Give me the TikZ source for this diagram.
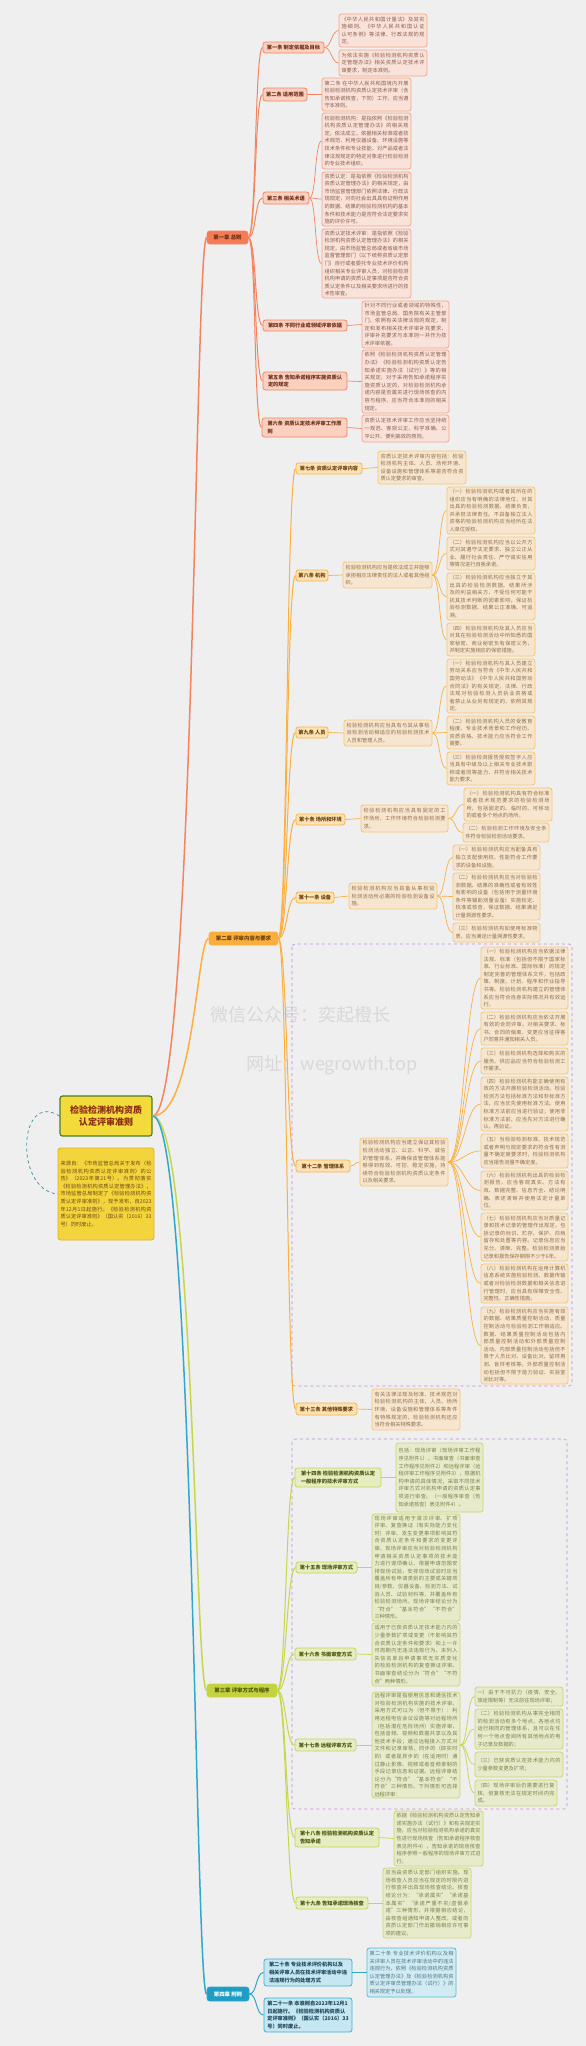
\documentclass[tikz,border=0pt]{standalone}
\usepackage{fontspec}
\setmainfont{Noto Sans CJK SC}
\XeTeXlinebreaklocale "zh"
\XeTeXlinebreakskip=0pt plus 0.6pt
\definecolor{bg}{HTML}{EFEFEF}
\definecolor{cAm}{HTML}{F4845F}\definecolor{cAc}{HTML}{F47C55}\definecolor{cAf}{HTML}{FAD0BF}\definecolor{cAd}{HTML}{F4845F}\definecolor{cAlf}{HTML}{F8E2D9}\definecolor{cAld}{HTML}{F3A68A}\definecolor{cAt}{HTML}{6E2F1A}\definecolor{cAlt}{HTML}{8C5E4C}
\definecolor{cBm}{HTML}{FBB040}\definecolor{cBc}{HTML}{FBAE3C}\definecolor{cBf}{HTML}{FCE2B5}\definecolor{cBd}{HTML}{FBB445}\definecolor{cBlf}{HTML}{F7E6CF}\definecolor{cBld}{HTML}{F9C56F}\definecolor{cBt}{HTML}{6A4210}\definecolor{cBlt}{HTML}{8F6E4A}
\definecolor{cCm}{HTML}{C7D54A}\definecolor{cCc}{HTML}{C4D23E}\definecolor{cCf}{HTML}{E6EDC0}\definecolor{cCd}{HTML}{C8D657}\definecolor{cClf}{HTML}{E8EBCB}\definecolor{cCld}{HTML}{CAD66B}\definecolor{cCt}{HTML}{4C5512}\definecolor{cClt}{HTML}{7A8048}
\definecolor{cDm}{HTML}{2FA8CC}\definecolor{cDc}{HTML}{1F9EC5}\definecolor{cDf}{HTML}{C6E6F1}\definecolor{cDd}{HTML}{3FB0D4}\definecolor{cDlf}{HTML}{D2EBF3}\definecolor{cDld}{HTML}{58BAD8}\definecolor{cDt}{HTML}{1D4A5C}\definecolor{cDlt}{HTML}{4A7888}
\definecolor{rootf}{HTML}{F2DB3A}\definecolor{rootd}{HTML}{4E7D2C}\definecolor{roott}{HTML}{8B2B16}
\definecolor{notef}{HTML}{F4D43C}\definecolor{noted}{HTML}{D8B22C}\definecolor{notet}{HTML}{6A4A12}
\definecolor{bnd}{HTML}{C48BDD}\definecolor{arcc}{HTML}{3B8FA8}\definecolor{wmc}{HTML}{D8D8D8}
\tikzset{
 basebox/.style={rounded corners=2.5pt, line width=0.8pt, inner xsep=2.5pt, inner ysep=1pt, align=left},
 leafbox/.style={basebox, font=\fontsize{5.2}{7.6}\selectfont, align=justify},
 twobox/.style={basebox, font=\bfseries\fontsize{5.2}{7.6}\selectfont},
 chbox/.style={basebox, font=\bfseries\fontsize{5.4}{7.6}\selectfont, line width=0.6pt},
 leafA/.style={leafbox, draw=cAld, fill=cAlf, text=cAlt},
 twoA/.style={twobox, draw=cAd, fill=cAf, text=cAt},
 chA/.style={chbox, draw=cAm, fill=cAc, text=cAt},
 leafB/.style={leafbox, draw=cBld, fill=cBlf, text=cBlt},
 twoB/.style={twobox, draw=cBd, fill=cBf, text=cBt},
 chB/.style={chbox, draw=cBm, fill=cBc, text=cBt},
 leafC/.style={leafbox, draw=cCld, fill=cClf, text=cClt},
 twoC/.style={twobox, draw=cCd, fill=cCf, text=cCt},
 chC/.style={chbox, draw=cCm, fill=cCc, text=cCt},
 leafD/.style={leafbox, draw=cDld, fill=cDlf, text=cDlt},
 twoD/.style={twobox, draw=cDd, fill=cDf, text=cDt},
 chD/.style={chbox, draw=cDm, fill=cDc, text=white},
 rootbox/.style={basebox, align=center, draw=rootd, fill=rootf, text=roott, line width=1.2pt, font=\bfseries\fontsize{9}{12}\selectfont},
 notebox/.style={leafbox, draw=noted, fill=notef, text=notet},
 bndline/.style={draw=bnd, dashed, line width=0.6pt, rounded corners=3pt},
 rA/.style={draw=cAm, line width=1.5pt}, eA/.style={draw=cAm, line width=1pt}, fA/.style={draw=cAm, line width=0.7pt},
 rB/.style={draw=cBm, line width=1.5pt}, eB/.style={draw=cBm, line width=1pt}, fB/.style={draw=cBm, line width=0.7pt},
 rC/.style={draw=cCm, line width=1.5pt}, eC/.style={draw=cCm, line width=1pt}, fC/.style={draw=cCm, line width=0.7pt},
 rD/.style={draw=cDm, line width=1.5pt}, eD/.style={draw=cDm, line width=1pt}, fD/.style={draw=cDm, line width=0.7pt},
 wmark/.style={text=wmc, inner sep=0pt, font=\fontsize{18}{20}\selectfont}
}
\newcommand\bx[7]{%
 \pgfmathsetmacro\myw{#5-#3}\pgfmathsetmacro\myh{#6-#4}%
 \pgfmathsetmacro\mytw{#5-#3-5}\pgfmathsetmacro\mycx{(#3+#5)/2}\pgfmathsetmacro\mycy{(#4+#6)/2}%
 \node[#2,minimum width=\myw pt,minimum height=\myh pt,text width=\mytw pt] (#1) at (\mycx,\mycy) {#7};}
\newcommand\bs[7]{%
 \pgfmathsetmacro\myw{#5-#3}\pgfmathsetmacro\myh{#6-#4}%
 \pgfmathsetmacro\mycx{(#3+#5)/2}\pgfmathsetmacro\mycy{(#4+#6)/2}%
 \node[#2,minimum width=\myw pt,minimum height=\myh pt] (#1) at (\mycx,\mycy) {#7};}
\newcommand\cn[4]{\draw[#1] (#2.east) .. controls +(#4,0) and +(-#4,0) .. (#3.west);}
\newcommand\rc[2]{\draw[#1] (root.east) .. controls +(42,0) and +(-12,0) .. (#2.west);}
\begin{document}
\begin{tikzpicture}[x=1pt,y=-1pt]
\fill[bg] (0,0) rectangle (586,2046);
\useasboundingbox (0,0) rectangle (586,2046);
% faint watermark in the free space left of the 第十二条 block
\node[wmark] (wm1) at (300,1015) {微信公众号：奕起橙长};
\node[wmark] (wm2) at (332,1065) {网址：wegrowth.top};
\draw[bndline] (292,944) rectangle (572,1386);
\draw[bndline] (292,1439) rectangle (567,1809);

\node[rootbox, minimum width=92pt, minimum height=40pt] (root) at (106,1116) {检验检测机构资质\\认定评审准则};
\bx{note}{notebox}{58}{1148}{154}{1240}{来源自：《市场监管总局关于发布〈检验检测机构资质认定评审准则〉的公告》（2023年第21号）。为贯彻落实《检验检测机构资质认定管理办法》，市场监管总局制定了《检验检测机构资质认定评审准则》，现予发布，自2023年12月1日起施行。《检验检测机构资质认定评审准则》（国认实〔2016〕33号）同时废止。}
\draw[arcc, dashed, line width=0.7pt] (root.west) .. controls (18,1090) and (14,1190) .. (note.west);

\bs{ch1}{chA}{207}{231}{248}{244}{第一章 总则}
\bs{ch2}{chB}{209}{932}{278}{945}{第二章 评审内容与要求}
\bs{ch3}{chC}{207}{1684}{277}{1697}{第三章 评审方式与程序}
\bs{ch4}{chD}{207}{1987}{249}{2001}{第四章 附则}
\rc{rA}{ch1}\rc{rB}{ch2}\rc{rC}{ch3}\rc{rD}{ch4}

\bs{a1}{twoA}{263}{42}{324}{53}{第一条 制定依据及目标}
\bs{a2}{twoA}{263}{88}{307}{101}{第二条 适用范围}
\bs{a3}{twoA}{263}{192}{309}{204}{第三条 相关术语}
\bs{a4}{twoA}{263}{320}{347}{331}{第四条 不同行业或领域评审依据}
\bs{a5}{twoA}{263}{372}{347}{390}{第五条 告知承诺程序实施资质认\\定的规定}
\bs{a6}{twoA}{262}{418}{347}{437}{第六条 资质认定技术评审工作原\\则}
\bx{l1a}{leafA}{339}{14}{427}{47}{《中华人民共和国计量法》及其实施细则、《中华人民共和国认证认可条例》等法律、行政法规的规定。}
\bx{l1b}{leafA}{339}{50}{427}{76}{为依法实施《检验检测机构资质认定管理办法》相关资质认定技术评审要求，制定本准则。}
\bx{l2}{leafA}{322}{78}{411}{111}{第二条 在中华人民共和国境内开展检验检测机构资质认定技术评审（含告知承诺核查，下同）工作，应当遵守本准则。}
\bx{l3a}{leafA}{322}{113}{411}{169}{检验检测机构：是指依照《检验检测机构资质认定管理办法》的相关规定，依法成立，依据相关标准或者技术规范，利用仪器设备、环境设施等技术条件和专业技能，对产品或者法律法规规定的特定对象进行检验检测的专业技术组织。}
\bx{l3b}{leafA}{322}{172}{411}{226}{资质认定：是指依照《检验检测机构资质认定管理办法》的相关规定，由市场监督管理部门依照法律、行政法规规定，对向社会出具具有证明作用的数据、结果的检验检测机构的基本条件和技术能力是否符合法定要求实施的评价许可。}
\bx{l3c}{leafA}{322}{229}{411}{298}{资质认定技术评审：是指依照《检验检测机构资质认定管理办法》的相关规定，由市场监管总局或者省级市场监督管理部门（以下统称资质认定部门）自行或者委托专业技术评价机构组织相关专业评审人员，对检验检测机构申请的资质认定事项是否符合资质认定条件以及相关要求所进行的技术性审查。}
\bx{l4}{leafA}{362}{301}{449}{348}{针对不同行业或者领域的特殊性，市场监管总局、国务院有关主管部门，依照有关法律法规的规定，制定和发布相关技术评审补充要求，评审补充要求与本准则一并作为技术评审依据。}
\bx{l5}{leafA}{362}{350}{449}{413}{依照《检验检测机构资质认定管理办法》《检验检测机构资质认定告知承诺实施办法（试行）》等的相关规定，对于采用告知承诺程序实施资质认定的，对检验检测机构承诺内容是否属实进行现场核查的内容与程序，应当符合本准则的相关规定。}
\bx{l6}{leafA}{362}{415}{449}{442}{资质认定技术评审工作应当坚持统一规范、客观公正、科学准确、公平公开、便利高效的原则。}
\foreach \n in {a1,a2,a3,a4,a5,a6}{\cn{eA}{ch1}{\n}{8}}
\cn{fA}{a1}{l1a}{7}\cn{fA}{a1}{l1b}{7}\cn{fA}{a2}{l2}{7}
\cn{fA}{a3}{l3a}{7}\cn{fA}{a3}{l3b}{7}\cn{fA}{a3}{l3c}{7}
\cn{fA}{a4}{l4}{7}\cn{fA}{a5}{l5}{7}\cn{fA}{a6}{l6}{7}

\bs{b7}{twoB}{296}{463}{362}{474}{第七条 资质认定评审内容}
\bs{b8}{twoB}{296}{570}{328}{581}{第八条 机构}
\bs{b9}{twoB}{296}{727}{328}{738}{第九条 人员}
\bs{b10}{twoB}{296}{814}{345}{825}{第十条 场所和环境}
\bs{b11}{twoB}{296}{892}{334}{903}{第十一条 设备}
\bs{b12}{twoB}{296}{1160}{350}{1172}{第十二条 管理体系}
\bs{b13}{twoB}{296}{1403}{357}{1415}{第十三条 其他特殊要求}
\bx{l7}{leafB}{378}{451}{466}{484}{资质认定技术评审内容包括：检验检测机构主体、人员、场所环境、设备设施和管理体系等是否符合资质认定要求的审查。}
\bx{l8}{leafB}{343}{562}{432}{588}{检验检测机构应当是依法成立并能够承担相应法律责任的法人或者其他组织。}
\bx{l81}{leafB}{447}{487}{535}{534}{（一）检验检测机构或者其所在的组织应当有明确的法律地位，对其出具的检验检测数据、结果负责，并承担法律责任。不具备独立法人资格的检验检测机构应当经所在法人单位授权。}
\bx{l82}{leafB}{447}{537}{535}{570}{（二）检验检测机构应当以公开方式对其遵守法定要求、独立公正从业、履行社会责任、严守诚实信用等情况进行自我承诺。}
\bx{l83}{leafB}{447}{573}{535}{620}{（三）检验检测机构应当独立于其出具的检验检测数据、结果所涉及的利益相关方，不受任何可能干扰其技术判断的因素影响，保证检验检测数据、结果公正准确、可追溯。}
\bx{l84}{leafB}{447}{623}{535}{656}{（四）检验检测机构及其人员应当对其在检验检测活动中所知悉的国家秘密、商业秘密负有保密义务，并制定实施相应的保密措施。}
\bx{l9}{leafB}{344}{720}{432}{746}{检验检测机构应当具有与其从事检验检测活动相适应的检验检测技术人员和管理人员。}
\bx{l91}{leafB}{447}{659}{535}{713}{（一）检验检测机构与其人员建立劳动关系应当符合《中华人民共和国劳动法》《中华人民共和国劳动合同法》的有关规定，法律、行政法规对检验检测人员执业资格或者禁止从业另有规定的，依照其规定。}
\bx{l92}{leafB}{447}{716}{535}{749}{（二）检验检测机构人员的受教育程度、专业技术背景和工作经历、资质资格、技术能力应当符合工作需要。}
\bx{l93}{leafB}{447}{752}{535}{785}{（三）检验检测报告授权签字人应当具有中级及以上相关专业技术职称或者同等能力，并符合相关技术能力要求。}
\bx{l10}{leafB}{361}{805}{448}{832}{检验检测机构应当具有固定的工作场所，工作环境符合检验检测要求。}
\bx{l101}{leafB}{464}{788}{552}{821}{（一）检验检测机构具有符合标准或者技术规范要求的检验检测场所，包括固定的、临时的、可移动的或者多个地点的场所。}
\bx{l102}{leafB}{463}{823}{549}{842}{（二）检验检测工作环境及安全条件符合检验检测活动要求。}
\bx{l11}{leafB}{349}{883}{437}{909}{检验检测机构应当具备从事检验检测活动所必需的检验检测设备设施。}
\bx{l111}{leafB}{453}{845}{540}{870}{（一）检验检测机构应当配备具有独立支配使用权、性能符合工作要求的设备和设施。}
\bx{l112}{leafB}{453}{873}{540}{920}{（二）检验检测机构应当对检验检测数据、结果的准确性或者有效性有影响的设备（包括用于测量环境条件等辅助测量设备）实施检定、校准或核查，保证数据、结果满足计量溯源性要求。}
\bx{l113}{leafB}{453}{923}{540}{942}{（三）检验检测机构如使用标准物质，应当满足计量溯源性要求。}
\bx{l12}{leafB}{360}{1138}{448}{1186}{检验检测机构应当建立保证其检验检测活动独立、公正、科学、诚信的管理体系，并确保该管理体系能够得到有效、可控、稳定实施，持续符合检验检测机构资质认定条件以及相关要求。}
\bx{l121}{leafB}{481}{947}{568}{1009}{（一）检验检测机构应当依据法律法规、标准（包括但不限于国家标准、行业标准、国际标准）的规定制定完善的管理体系文件，包括政策、制度、计划、程序和作业指导书等。检验检测机构建立的管理体系应当符合自身实际情况并有效运行。}
\bx{l122}{leafB}{481}{1012}{568}{1045}{（二）检验检测机构应当依法开展有效的合同评审。对相关要求、标书、合同的偏离、变更应当征得客户同意并通知相关人员。}
\bx{l123}{leafB}{481}{1048}{568}{1074}{（三）检验检测机构选择和购买的服务、供应品应当符合检验检测工作需求。}
\bx{l124}{leafB}{481}{1077}{568}{1131}{（四）检验检测机构能正确使用有效的方法开展检验检测活动。检验检测方法包括标准方法和非标准方法，应当优先使用标准方法。使用标准方法前应当进行验证；使用非标准方法前，应当先对方法进行确认，再验证。}
\bx{l125}{leafB}{481}{1134}{568}{1168}{（五）当检验检测标准、技术规范或者声明与规定要求的符合性有测量不确定度要求时，检验检测机构应当报告测量不确定度。}
\bx{l126}{leafB}{481}{1171}{568}{1210}{（六）检验检测机构出具的检验检测报告，应当客观真实、方法有效、数据完整、信息齐全、结论明确、表述清晰并使用法定计量单位。}
\bx{l127}{leafB}{481}{1213}{568}{1261}{（七）检验检测机构应当对质量记录和技术记录的管理作出规定，包括记录的标识、贮存、保护、归档留存和处置等内容。记录信息应当充分、清晰、完整。检验检测原始记录和报告保存期限不少于6年。}
\bx{l128}{leafB}{481}{1264}{568}{1303}{（八）检验检测机构在运用计算机信息系统实施检验检测、数据传输或者对检验检测数据和相关信息进行管理时，应当具有保障安全性、完整性、正确性措施。}
\bx{l129}{leafB}{481}{1307}{568}{1384}{（九）检验检测机构应当实施有效的数据、结果质量控制活动，质量控制活动与检验检测工作相适应。数据、结果质量控制活动包括内部质量控制活动和外部质量控制活动。内部质量控制活动包括但不限于人员比对、设备比对、留样再测、盲样考核等。外部质量控制活动包括但不限于能力验证、实验室间比对等。}
\bx{l13}{leafB}{372}{1389}{460}{1430}{有关法律法规及标准、技术规范对检验检测机构的主体、人员、场所环境、设备设施和管理体系等条件有特殊规定的，检验检测机构还应当符合相关特殊要求。}
\foreach \n in {b7,b8,b9,b10,b11,b12,b13}{\cn{eB}{ch2}{\n}{9}}
\cn{fB}{b7}{l7}{7}\cn{fB}{b8}{l8}{7}\cn{fB}{b9}{l9}{7}\cn{fB}{b10}{l10}{7}
\cn{fB}{b11}{l11}{7}\cn{fB}{b12}{l12}{5}\cn{fB}{b13}{l13}{7}
\foreach \n in {l81,l82,l83,l84}{\cn{fB}{l8}{\n}{8}}
\foreach \n in {l91,l92,l93}{\cn{fB}{l9}{\n}{8}}
\foreach \n in {l101,l102}{\cn{fB}{l10}{\n}{8}}
\foreach \n in {l111,l112,l113}{\cn{fB}{l11}{\n}{8}}
\foreach \n in {l121,l122,l123,l124,l125,l126,l127,l128,l129}{\cn{fB}{l12}{\n}{15}}

\bs{c14}{twoC}{295}{1468}{381}{1487}{第十四条 检验检测机构资质认定\\一般程序的技术评审方式}
\bs{c15}{twoC}{296}{1562}{357}{1573}{第十五条 现场评审方式}
\bs{c16}{twoC}{295}{1648}{356}{1660}{第十六条 书面审查方式}
\bs{c17}{twoC}{295}{1739}{356}{1751}{第十七条 远程评审方式}
\bs{c18}{twoC}{295}{1828}{379}{1847}{第十八条 检验检测机构资质认定\\告知承诺}
\bs{c19}{twoC}{296}{1897}{368}{1909}{第十九条 告知承诺现场核查}
\bx{l14}{leafC}{396}{1443}{483}{1512}{包括：现场评审（现场评审工作程序见附件1）、书面审查（书面审查工作程序见附件2）和远程评审（远程评审工作程序见附件3），根据机构申请的具体情况，采取不同技术评审方式对机构申请的资质认定事项进行审查。（一般程序审查〔告知承诺核查〕表见附件4）。}
\bx{l15}{leafC}{372}{1514}{460}{1621}{现场评审适用于首次评审、扩项评审、复查换证（有实际能力变化时）评审、发生变更事项影响其符合资质认定条件和要求的变更评审。现场评审应当对检验检测机构申请相关资质认定事项的技术能力进行逐项确认，根据申请范围安排现场试验，安排现场试验时应当覆盖所有申请类别的主要或关键项目/参数、仪器设备、检测方法、试验人员、试验材料等，并覆盖所有检验检测场所。现场评审结论分为“符合”“基本符合”“不符合”三种情形。}
\bx{l16}{leafC}{372}{1623}{460}{1686}{适用于已获资质认定技术能力内的少量参数扩项或变更（不影响其符合资质认定条件和要求）和上一许可周期内无违法违规行为、未列入失信名单且申请事项无实质变化的检验检测机构的复查换证评审。书面审查结论分为“符合”“不符合”两种情形。}
\bx{l17}{leafC}{372}{1692}{460}{1798}{远程评审是指使用信息和通信技术对检验检测机构实施的技术评审。采用方式可以为（但不限于）：利用远程电信会议设施等对远程场所（包括潜在危险场所）实施评审，包括音频、视频和数据共享以及其他技术手段；通过远程接入方式对文件和记录审核，同步的（即实时的）或者是异步的（在适用时）通过静止影像、视频或者音频录制的手段记录信息和证据。远程评审结论分为“符合”“基本符合”“不符合”三种情形。下列情形可选择远程评审：}
\bx{l171}{leafC}{475}{1687}{563}{1706}{一）由于不可抗力（疫情、安全、旅途限制等）无法前往现场评审；}
\bx{l172}{leafC}{475}{1709}{563}{1749}{（二）检验检测机构从事完全相同的检测活动有多个地点，各地点均运行相同的管理体系，且可以在任何一个地点查阅所有其他地点的电子记录及数据的；}
\bx{l173}{leafC}{475}{1752}{563}{1777}{（三）已获资质认定技术能力内的少量参数变更及扩项；}
\bx{l174}{leafC}{475}{1780}{557}{1806}{（四）现场评审后仍需要进行复核，但复核无法在规定时间内完成。}
\bx{l18}{leafC}{394}{1811}{483}{1866}{依据《检验检测机构资质认定告知承诺实施办法（试行）》和有关规定实施，应当对检验检测机构承诺的真实性进行现场核查（告知承诺程序核查表见附件4），告知承诺的现场核查程序参照一般程序的现场评审方式进行。}
\bx{l19}{leafC}{383}{1868}{471}{1938}{应当由资质认定部门组织实施。现场核查人员应当在规定的时限内进行核查并出具现场核查结论。核查结论分为：“承诺属实”“承诺基本属实”“承诺严重不实/虚假承诺”三种情形，并根据相应结论，由核查组通知申请人整改，或者向资质认定部门作出撤销相应许可事项的建议。}
\foreach \n in {c14,c15,c16,c17,c18,c19}{\cn{eC}{ch3}{\n}{9}}
\cn{fC}{c14}{l14}{7}\cn{fC}{c15}{l15}{7}\cn{fC}{c16}{l16}{7}
\cn{fC}{c17}{l17}{7}\cn{fC}{c18}{l18}{7}\cn{fC}{c19}{l19}{7}
\foreach \n in {l171,l172,l173,l174}{\cn{fC}{l17}{\n}{8}}

\bs{d20}{twoD}{264}{1959}{352}{1986}{第二十条 专业技术评价机构以及\\相关评审人员在技术评审活动中违\\法违规行为的处理方式}
\bs{d21}{twoD}{264}{1998}{352}{2032}{第二十一条 本准则自2023年12月1\\日起施行。《检验检测机构资质认\\定评审准则》（国认实〔2016〕33\\号）同时废止。}
\bx{l20}{leafD}{367}{1948}{456}{1997}{第二十条 专业技术评价机构以及相关评审人员在技术评审活动中的违法违规行为，依照《检验检测机构资质认定管理办法》及《检验检测机构资质认定评审员管理办法（试行）》的相关规定予以处理。}
\cn{eD}{ch4}{d20}{8}\cn{eD}{ch4}{d21}{8}
\cn{fD}{d20}{l20}{7}
\end{tikzpicture}
\end{document}
